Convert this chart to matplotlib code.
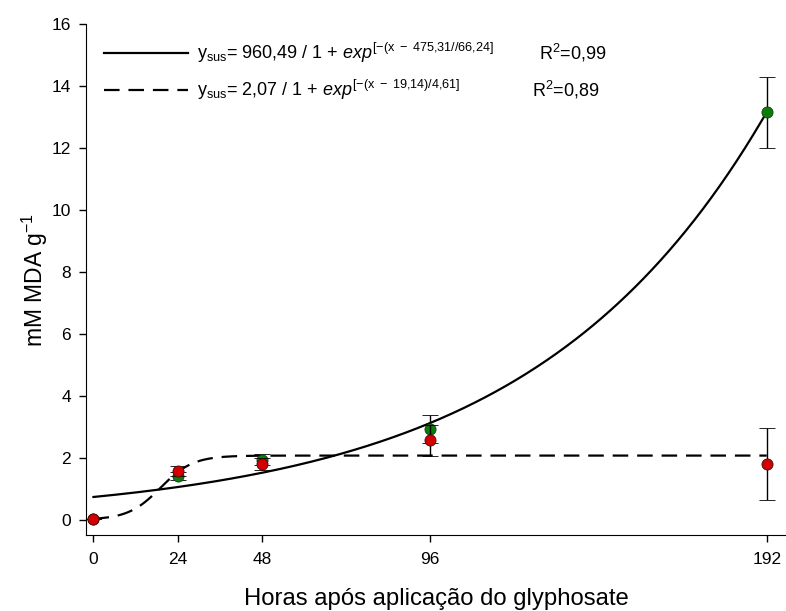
import numpy as np
import matplotlib
matplotlib.use("Agg")
import matplotlib.pyplot as plt

plt.rcParams['font.family'] = ['Liberation Sans', 'DejaVu Sans']
plt.rcParams['mathtext.fontset'] = 'custom'
plt.rcParams['mathtext.rm'] = 'Liberation Sans'
plt.rcParams['mathtext.it'] = 'Liberation Sans:italic'

# hours after glyphosate application
hours = [0, 24, 48, 96, 192]

# green series (solid fit)
green_y = [0.02, 1.42, 1.94, 2.94, 13.15]
green_err = [0.0, 0.13, 0.18, 0.45, 1.15]

# red series (dashed fit)
red_y = [0.02, 1.56, 1.80, 2.56, 1.80]
red_err = [0.0, 0.16, 0.20, 0.50, 1.15]

# logistic fit parameters from the legend: a, x0, b
fit_solid = [960.49, 475.31, 66.24]
fit_dashed = [2.07, 19.14, 4.61]

xticks = [0, 24, 48, 96, 192]
yticks = [0, 2, 4, 6, 8, 10, 12, 14, 16]


def logistic(x, p):
    a, x0, b = p
    return a / (1 + np.exp(-(x - x0) / b))


fig = plt.figure(figsize=(7.86, 6.11), dpi=100)
ax = fig.add_axes([0.110, 0.124, 0.89, 0.837])

xs = np.linspace(0, 192, 400)
ax.plot(xs, logistic(xs, fit_solid), color='black', lw=1.6, zorder=2)
ax.plot(xs, logistic(xs, fit_dashed), color='black', lw=1.6,
        dashes=(7, 4), zorder=2)

ax.errorbar(hours, green_y, yerr=green_err, fmt='o', color='black',
            mfc='#0a7d0a', mec='#1a3a1a', ms=8, mew=0.6,
            ecolor='black', elinewidth=1, capsize=6, capthick=1, zorder=3)
ax.errorbar(hours, red_y, yerr=red_err, fmt='o', color='black',
            mfc='#d40000', mec='#3a1010', ms=8, mew=0.6,
            ecolor='black', elinewidth=1, capsize=6, capthick=1, zorder=4)

ax.set_xlim(-2, 197.5)
ax.set_ylim(-0.5, 16)
ax.set_xticks(xticks)
ax.set_yticks(yticks)
ax.tick_params(axis='both', direction='out', length=5, width=1,
               labelsize=12.5, pad=6)
ax.tick_params(axis='x', pad=7)
for s in ['top', 'right']:
    ax.spines[s].set_visible(False)
ax.spines['left'].set_bounds(-0.5, 16)

ax.set_xlabel('Horas após aplicação do glyphosate', fontsize=17.2, labelpad=15)
ax.set_ylabel('mM MDA g$^{-1}$', fontsize=16.5, labelpad=1)

# legend drawn by hand
ax.plot([3, 27], [15.06, 15.06], color='black', lw=1.6)
ax.plot([3, 27], [13.87, 13.87], color='black', lw=1.6, dashes=(7, 4))
eq1 = (r'y$_{\mathrm{sus}}$= 960,49 / 1 + '
       r'$\mathit{exp}^{\mathrm{[-(x\ -\ 475{,}31//66{,}24]}}$')
eq2 = (r'y$_{\mathrm{sus}}$= 2,07 / 1 + '
       r'$\mathit{exp}^{\mathrm{[-(x\ -\ 19{,}14)/4{,}61]}}$')
ax.text(29.5, 15.06, eq1, fontsize=13, va='center', ha='left')
ax.text(29.5, 13.87, eq2, fontsize=13, va='center', ha='left')
ax.text(127, 15.06, r'R$^{2}$=0,99', fontsize=13, va='center', ha='left')
ax.text(125, 13.87, r'R$^{2}$=0,89', fontsize=13, va='center', ha='left')

fig.savefig('out.png', dpi=100)
